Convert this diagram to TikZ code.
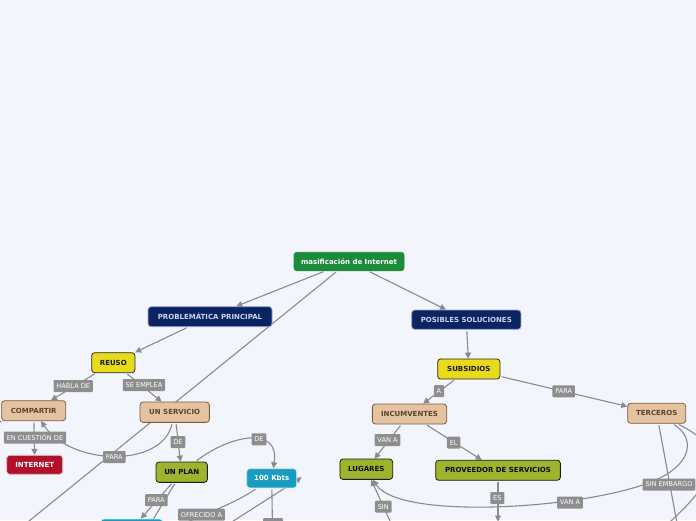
\documentclass[tikz,border=0pt]{standalone}
\usepackage{fontspec}
\setmainfont{DejaVu Sans}
\usetikzlibrary{arrows.meta,backgrounds}
\definecolor{bgc}{HTML}{F3F5FD}
\definecolor{greenc}{HTML}{1C8C3A}
\definecolor{navyc}{HTML}{0D2463}
\definecolor{navyb}{HTML}{9AAAD0}
\definecolor{navyt}{HTML}{CAD4EC}
\definecolor{yellowc}{HTML}{E7DB1C}
\definecolor{tanc}{HTML}{E6C3A0}
\definecolor{tanb}{HTML}{7A5B3D}
\definecolor{tant}{HTML}{5A4331}
\definecolor{olivec}{HTML}{9DB42C}
\definecolor{tealc}{HTML}{1A9BC0}
\definecolor{tealb}{HTML}{D2EBF3}
\definecolor{redc}{HTML}{B10F2B}
\definecolor{redb}{HTML}{EBC3CA}
\definecolor{lblc}{HTML}{8E8E8F}
\definecolor{linec}{HTML}{8A8A90}
\newcommand\mmnodefont{\fontsize{7}{8}\selectfont\bfseries}
\newcommand\mmlblfont{\fontsize{6.6}{7.5}\selectfont}
\begin{document}
\begin{tikzpicture}[x=1pt,y=-1pt,
  box/.style={rectangle, rounded corners=3pt, minimum height=20pt, inner xsep=0pt, inner ysep=0pt, font=\mmnodefont, line width=0.8pt},
  greenbox/.style={box, fill=greenc, draw=greenc, text=white},
  navybox/.style={box, fill=navyc, draw=navyb, text=navyt},
  yellowbox/.style={box, fill=yellowc, draw=black!85, text=black!90},
  tanbox/.style={box, fill=tanc, draw=tanb, text=tant},
  olivebox/.style={box, fill=olivec, draw=black!90, text=black!95},
  tealbox/.style={box, fill=tealc, draw=tealb, text=white},
  redbox/.style={box, fill=redc, draw=redb, text=white},
  lbl/.style={rectangle, rounded corners=1pt, fill=lblc, text=white, font=\mmlblfont, minimum height=12pt, inner xsep=2.8pt, inner ysep=0pt},
  conn/.style={draw=linec, line width=1.1pt, shorten <=1.5pt},
  arr/.style={conn, -{Triangle[width=6pt,length=6pt]}}
]
\useasboundingbox (0,0) rectangle (696,520);

% main nodes
\node[greenbox, minimum width=110pt, minimum height=18.5pt] (mas) at (349,261.5) {masificación de Internet};
\node[navybox, minimum width=124pt] (prob) at (210,316.7) {PROBLEMÁTICA PRINCIPAL};
\node[navybox, minimum width=109.3pt, minimum height=19.3pt] (pos) at (466.3,319.7) {POSIBLES SOLUCIONES};
\node[yellowbox, minimum width=43.3pt] (reuso) at (113.3,362.7) {REUSO};
\node[yellowbox, minimum width=62.3pt] (subs) at (468.8,369) {SUBSIDIOS};
\node[tanbox, minimum width=64pt] (comp) at (33.7,410.7) {COMPARTIR};
\node[tanbox, minimum width=69.3pt, minimum height=20.3pt] (serv) at (174.7,412.2) {UN SERVICIO};
\node[redbox, minimum width=56pt, minimum height=19pt] (inet) at (34.7,464.8) {INTERNET};
\node[olivebox, minimum width=51.3pt, minimum height=20.3pt] (plan) at (181.7,472.2) {UN PLAN};
\node[tealbox, minimum width=50pt, minimum height=19.3pt] (kbts) at (271.7,478.3) {100 Kbts};
\node[tanbox, minimum width=74.3pt] (incu) at (409.5,414) {INCUMVENTES};
\node[tanbox, minimum width=58pt] (terc) at (656.7,413.3) {TERCEROS};
\node[olivebox, minimum width=52.7pt, minimum height=20.3pt] (lug) at (366.3,469.2) {LUGARES};
\node[olivebox, minimum width=124.7pt] (prov) at (498,470.3) {PROVEEDOR DE SERVICIOS};
\node[tealbox, minimum width=62pt] (tealB) at (131.7,529) {};

% off-page ends
\coordinate (offA) at (-19,560);
\coordinate (offL) at (-4,425);
\coordinate (offP) at (128.5,560);
\coordinate (offO) at (140,542);
\coordinate (offV) at (273,560);
\coordinate (offK) at (188,550);
\coordinate (tipK) at (301.7,477.3);
\coordinate (provT) at (498,521.5);
\coordinate (offS) at (407.8,560);
\coordinate (offE) at (683.8,560);
\coordinate (offT2) at (655,535);

\begin{pgfonlayer}{background}
\fill[bgc] (0,0) rectangle (696,520);
\draw[arr] (mas) -- (prob);
\draw[conn] (mas) -- (offA);
\draw[arr] (mas) -- (pos);
\draw[arr] (prob) -- (reuso);
\draw[arr] (pos) -- (subs);
\draw[arr] (reuso) -- (comp);
\draw[arr] (reuso) -- (serv);
\draw[arr] (comp) -- (inet);
\draw[conn] (offL) -- (comp.south west);
\draw[arr] (serv) .. controls (162,468) and (72,466) .. (comp);
\draw[arr] (serv) -- (plan);
\draw[arr] (plan) .. controls (230,435) and (280,425) .. (kbts);
\draw[arr] (plan) -- (tealB);
\draw[conn] (plan) -- (offP);
\draw[conn] (kbts) .. controls (235,503) and (215,510) .. (offO);
\draw[conn] (kbts) -- (offV);
\draw[arr] (offK) -- (tipK);
\draw[arr] (subs) -- (incu);
\draw[arr] (subs) -- (terc);
\draw[arr] (incu) -- (lug);
\draw[arr] (incu) -- (prov);
\draw[arr] (prov) -- (provT);
\draw[arr] (offS) -- (lug);
\draw[arr] (terc) .. controls (695,438) and (692,462) .. (660,478) .. controls (600,508) and (400,522) .. (lug);
\draw[conn] (terc) -- (offE);
\draw[conn] (terc) .. controls (730,450) and (720,480) .. (offT2);
\end{pgfonlayer}

% connector labels
\node[lbl] (habla) at (73.3,386) {HABLA DE};
\node[lbl] (emplea) at (144,385) {SE EMPLEA};
\node[lbl] (cuest) at (35,437.5) {EN CUESTIÓN DE};
\node[lbl] (para1) at (114.3,457) {PARA};
\node[lbl] (de1) at (178,442) {DE};
\node[lbl] (de2) at (259,439.3) {DE};
\node[lbl] (para2) at (156.3,500.2) {PARA};
\node[lbl] (ofre) at (201.5,514.7) {OFRECIDO A};
\node[lbl, minimum width=20pt] (lblB) at (273,524) {};
\node[lbl] (la) at (439,391.2) {A};
\node[lbl] (para3) at (563.7,391.3) {PARA};
\node[lbl] (vana1) at (387.5,440) {VAN A};
\node[lbl] (el) at (453.7,442.7) {EL};
\node[lbl] (es) at (497.3,498) {ES};
\node[lbl] (sin) at (383.3,506.7) {SIN};
\node[lbl] (vana2) at (570,502.5) {VAN A};
\node[lbl] (sinemb) at (669,484.5) {SIN EMBARGO};
\end{tikzpicture}
\end{document}
